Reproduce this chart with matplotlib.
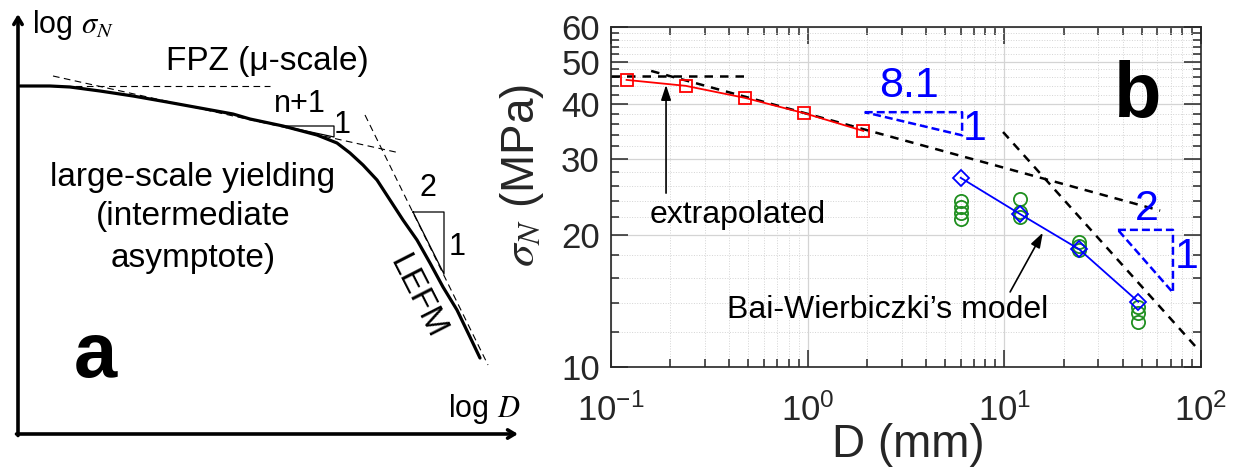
import matplotlib.pyplot as plt
from matplotlib.ticker import LogLocator, FixedLocator, FixedFormatter, NullFormatter

plt.rcParams['font.family'] = ['Liberation Sans', 'DejaVu Sans']
plt.rcParams['mathtext.fontset'] = 'stix'
plt.rcParams['axes.unicode_minus'] = False

W, H = 1237, 468

# ---------------- (a) schematic size-effect law, log-log units
curve_logD = [0.04, 0.64, 1.04, 1.64, 2.30, 2.98, 3.64, 4.30, 4.64, 5.30, 5.98, 6.38,
              6.64, 6.90, 7.18, 7.44, 7.70, 7.98, 8.24, 8.50, 8.78, 9.04, 9.24]
curve_logS = [6.96, 6.96, 6.94, 6.86, 6.76, 6.64, 6.52, 6.40, 6.30, 6.16, 5.98, 5.82,
              5.62, 5.38, 5.08, 4.68, 4.28, 3.88, 3.42, 2.94, 2.48, 1.94, 1.52]
strength_lim = ([0.70, 5.04], [6.96, 6.96])      # horizontal strength limit
yield_asym = ([0.70, 7.64], [7.16, 5.62])        # intermediate asymptote
lefm_asym = ([6.94, 9.40], [6.38, 1.38])         # LEFM asymptote, slope -1/2
tri_n1 = ([5.30, 6.32, 6.32, 5.30], [6.16, 6.16, 5.94, 6.16])
tri_21 = ([7.90, 8.52, 8.52, 7.90], [4.44, 4.44, 3.20, 4.44])

# ---------------- (b) nominal strength vs. specimen size
D_small = [0.12, 0.24, 0.48, 0.96, 1.92]
sig_small = [45.4, 44.0, 41.3, 38.1, 34.7]
D_model = [6, 12, 24, 48]
sig_model = [27.1, 22.4, 18.6, 14.1]
D_test = [6, 6, 6, 6, 12, 12, 12, 24, 24, 24, 48, 48, 48]
sig_test = [24.0, 23.2, 22.5, 21.8, 24.2, 22.6, 22.1, 19.3, 18.9, 18.5, 13.7, 13.3, 12.7]
D_flat, sig_flat = [0.1, 0.5], [46.3, 46.3]
D_fit81, sig_fit81 = [0.16, 62], [47.6, 22.8]
D_fit2, sig_fit2 = [9.85, 98], [34.5, 10.9]
tri81_D, tri81_s = [1.95, 6.1, 6.1, 1.95], [38.3, 38.3, 33.9, 38.3]
tri2_D, tri2_s = [37.8, 72, 72, 37.8], [20.6, 20.6, 14.8, 20.6]

fig = plt.figure(figsize=(W / 100, H / 100), dpi=100)

# ---- panel a: axes in schematic units (50 px per unit, origin at the arrow corner)
axa = fig.add_axes([0, 0, 520 / W, 1])
axa.set_xlim(-0.36, 10.04)
axa.set_ylim(-0.68, 8.68)
axa.axis('off')

arrow = dict(arrowstyle='->,head_length=0.5,head_width=0.3', lw=2.6, color='k',
             shrinkA=0, shrinkB=0)
axa.annotate('', xy=(0, 8.4), xytext=(0, -0.03), arrowprops=arrow)
axa.annotate('', xy=(10.0, 0), xytext=(-0.03, 0), arrowprops=arrow)

axa.plot(curve_logD, curve_logS, color='k', lw=2.3, solid_capstyle='round',
         solid_joinstyle='round')
thin_dash = dict(color='k', lw=0.8, ls=(0, (6, 4)))
axa.plot(*strength_lim, **thin_dash)
axa.plot(*yield_asym, **thin_dash)
axa.plot(*lefm_asym, **thin_dash)
axa.plot(*tri_n1, color='k', lw=0.9)
axa.plot(*tri_21, color='k', lw=0.9)

fs_a = 24
axa.text(0.28, 8.02, r'log $\sigma_N$', fontsize=22, ha='left', va='baseline')
axa.text(9.32, 0.34, r'log $D$', fontsize=22, ha='center', va='baseline')
axa.text(4.98, 7.28, 'FPZ (μ-scale)', fontsize=fs_a, ha='center', va='baseline')
axa.text(5.64, 6.44, 'n+1', fontsize=22, ha='center', va='baseline')
axa.text(6.48, 6.02, '1', fontsize=22, ha='center', va='baseline')
axa.text(8.20, 4.76, '2', fontsize=22, ha='center', va='baseline')
axa.text(8.78, 3.58, '1', fontsize=22, ha='center', va='baseline')
axa.text(3.50, 4.96, 'large-scale yielding', fontsize=fs_a, ha='center', va='baseline')
axa.text(3.50, 4.18, '(intermediate', fontsize=fs_a, ha='center', va='baseline')
axa.text(3.50, 3.34, 'asymptote)', fontsize=fs_a, ha='center', va='baseline')
axa.text(7.98, 2.74, 'LEFM', fontsize=24, ha='center', va='center', rotation=-63)
axa.text(1.54, 1.14, 'a', fontsize=56, fontweight='bold', ha='center', va='baseline')

# ---- panel b: log-log data plot
L, R, T, B = 611, 1201, 27, 367
axb = fig.add_axes([L / W, 1 - B / H, (R - L) / W, (B - T) / H])
axb.set_xscale('log')
axb.set_yscale('log')
axb.set_xlim(0.1, 100)
axb.set_ylim(10, 60)

axb.xaxis.set_major_locator(LogLocator(base=10, numticks=10))
axb.xaxis.set_minor_locator(LogLocator(base=10, subs=range(2, 10), numticks=20))
axb.xaxis.set_minor_formatter(NullFormatter())
yt = [10, 20, 30, 40, 50, 60]
axb.yaxis.set_major_locator(FixedLocator(yt))
axb.yaxis.set_major_formatter(FixedFormatter([str(v) for v in yt]))
axb.yaxis.set_minor_locator(FixedLocator([v for v in range(12, 60, 2) if v % 10]))
axb.yaxis.set_minor_formatter(NullFormatter())

gray = '#262626'
axb.tick_params(which='both', direction='in', top=True, right=True, colors=gray,
                labelsize=25, width=1.1)
axb.tick_params(which='major', length=12)
axb.tick_params(which='minor', length=6)
axb.tick_params(axis='x', which='major', pad=19)
axb.tick_params(axis='y', which='major', pad=8)
for sp in axb.spines.values():
    sp.set_color(gray)
    sp.set_linewidth(1.2)
axb.set_axisbelow(True)
axb.grid(which='major', color='#d4d4d4', lw=0.9, ls='-')
axb.grid(which='minor', color='#d4d4d4', lw=0.7, ls=':')

dash_k = dict(color='k', lw=1.8, ls=(0, (3.4, 2.8)))
axb.plot(D_flat, sig_flat, **dash_k)
axb.plot(D_fit81, sig_fit81, **dash_k)
axb.plot(D_fit2, sig_fit2, **dash_k)
dash_b = dict(color='#0000ff', lw=1.8, ls=(0, (3.2, 1.6)))
axb.plot(tri81_D, tri81_s, **dash_b)
axb.plot(tri2_D, tri2_s, **dash_b)

axb.plot(D_small, sig_small, color='#ff0000', lw=1.3, marker='s', ms=9,
         mfc='none', mew=1.3)
axb.plot(D_test, sig_test, ls='none', marker='o', ms=9.5, mfc='none',
         mec='#1f8f1f', mew=1.3)
axb.plot(D_model, sig_model, color='#0000ff', lw=1.3, marker='D', ms=8.5,
         mfc='none', mew=1.3)

head = dict(arrowstyle='-|>,head_length=0.9,head_width=0.3', lw=1.2, color='k',
            shrinkA=0, shrinkB=0)
axb.annotate('', xy=(0.1905, 44.2), xytext=(0.1905, 25.0), arrowprops=head)
axb.annotate('', xy=(15.7, 20.3), xytext=(10.7, 14.85), arrowprops=head)

def fx(px):
    return px / W

def fy(py):
    return 1 - py / H

fig.text(fx(738), fy(223), 'extrapolated', fontsize=23, ha='center', va='baseline')
fig.text(fx(888), fy(318), 'Bai-Wierbiczki’s model', fontsize=23, ha='center',
         va='baseline')
blue = '#0000ff'
fig.text(fx(909), fy(97), '8.1', fontsize=31, color=blue, ha='center', va='baseline')
fig.text(fx(975), fy(140), '1', fontsize=31, color=blue, ha='center', va='baseline')
fig.text(fx(1147), fy(220), '2', fontsize=31, color=blue, ha='center', va='baseline')
fig.text(fx(1187), fy(268), '1', fontsize=31, color=blue, ha='center', va='baseline')
fig.text(fx(1138), fy(117), 'b', fontsize=56, fontweight='bold', ha='center',
         va='baseline')

fig.text(fx(522), fy(176), r'$\sigma_N$ (MPa)', fontsize=33, color=gray,
         rotation=90, ha='center', va='center')
fig.text(fx(908), fy(457), 'D (mm)', fontsize=33, color=gray, ha='center',
         va='baseline')

fig.savefig('out.png', dpi=100)
